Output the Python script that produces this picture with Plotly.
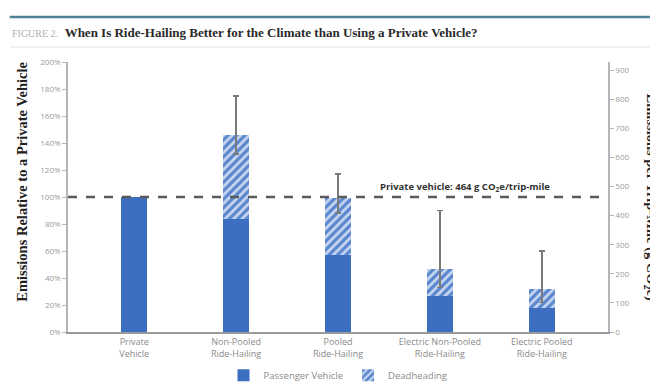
import plotly.graph_objects as go

# Trip modes along the x axis
categories = [
    "Private<br>Vehicle",
    "Non-Pooled<br>Ride-Hailing",
    "Pooled<br>Ride-Hailing",
    "Electric Non-Pooled<br>Ride-Hailing",
    "Electric Pooled<br>Ride-Hailing",
]

# Emissions relative to a private vehicle (%)
passenger_vehicle = [100, 84, 57, 27, 18]
deadheading = [None, 62, 42, 20, 14]

# Uncertainty ranges on the total (%)
range_low = [None, 132, 88, 33, 22]
range_high = [None, 175, 117, 90, 60]

# Private vehicle reference emissions (g CO2e / trip-mile)
private_g_per_mile = 464

left_ticks = list(range(0, 201, 20))
left_labels = [f"{v}%" for v in left_ticks]
right_ticks = list(range(0, 901, 100))

totals = [p + (d or 0) for p, d in zip(passenger_vehicle, deadheading)]
err_plus = [None if h is None else h - t for h, t in zip(range_high, totals)]
err_minus = [None if l is None else t - l for l, t in zip(range_low, totals)]

BLUE = "#3d6fc0"
LIGHT = "#c9d9f1"
AXIS = "#9a9a9a"
SANS = "Open Sans, sans-serif"
TICK_FONT = dict(family=SANS, size=8, color="#9a9a9a")
SERIF = "Liberation Serif, serif"

fig = go.Figure()

fig.add_trace(go.Bar(
    x=categories, y=passenger_vehicle, name="Passenger Vehicle",
    marker=dict(color=BLUE, line=dict(width=0)), width=0.26,
    hoverinfo="skip",
))
fig.add_trace(go.Bar(
    x=categories, y=deadheading, name="Deadheading",
    marker=dict(
        color=BLUE, line=dict(width=0),
        pattern=dict(shape="/", bgcolor="#5b87cf", fgcolor=LIGHT,
                     size=6, solidity=0.45, fillmode="replace"),
    ),
    width=0.26,
    error_y=dict(type="data", symmetric=False, array=err_plus,
                 arrayminus=err_minus, color="#7a7a7a", thickness=1.6, width=3),
    hoverinfo="skip",
))

# Secondary axis carrier (absolute emissions)
fig.add_trace(go.Scatter(
    x=[categories[0]], y=[private_g_per_mile], yaxis="y2", mode="markers",
    marker=dict(opacity=0), showlegend=False, hoverinfo="skip",
))

# Reference line: private vehicle emissions
fig.add_shape(type="line", xref="paper", x0=0, x1=1, yref="y2",
              y0=private_g_per_mile, y1=private_g_per_mile,
              line=dict(color="#5a5a5a", width=2.5, dash="dash"), layer="above")

fig.add_annotation(
    x=3.25, xref="x", y=private_g_per_mile, yref="y2", yshift=10,
    text="<b>Private vehicle: 464 g CO<sub>2</sub>e/trip-mile</b>",
    showarrow=False, font=dict(family=SANS, size=9.5, color="#333333"),
)

# Header rule, title and divider
fig.add_shape(type="line", xref="paper", yref="paper", x0=-0.108, x1=1.08,
              y0=1.1667, y1=1.1667, line=dict(color="#4f8296", width=2.5))
fig.add_shape(type="line", xref="paper", yref="paper", x0=-0.108, x1=1.08,
              y0=1.0556, y1=1.0556, line=dict(color="#e2e2e2", width=1))
fig.add_annotation(
    xref="paper", yref="paper", x=-0.108, y=1.108, xanchor="left", yanchor="middle",
    text=("<span style='font-size:10px;color:#b0b0b0'>FIGURE 2.</span>&nbsp;&nbsp;"
          "<b>When Is Ride-Hailing Better for the Climate than Using a Private Vehicle?</b>"),
    showarrow=False, font=dict(family=SERIF, size=13, color="#2a2a2a"),
)

# Axis titles
fig.add_annotation(
    xref="paper", yref="paper", x=-0.104, y=0.556, textangle=-90,
    text="<b>Emissions Relative to a Private Vehicle</b>", showarrow=False,
    font=dict(family=SERIF, size=14.5, color="#222222"),
)
fig.add_annotation(
    xref="paper", yref="paper", x=1.06, y=0.5, xanchor="left", textangle=90,
    text="<b>Emissions per Trip-Mile (g CO<sub>2</sub>e)</b>", showarrow=False,
    font=dict(family=SERIF, size=14.5, color="#222222"),
)

fig.update_layout(
    width=650, height=383,
    margin=dict(l=68, r=42, t=62, b=51, autoexpand=False),
    paper_bgcolor="white", plot_bgcolor="white",
    barmode="stack",
    showlegend=True,
    legend=dict(orientation="h", x=0.5, xanchor="center",
                yref="container", y=0.02, yanchor="middle",
                font=dict(family=SANS, size=9.5, color="#8a8a8a"),
                itemwidth=30, traceorder="normal"),
    xaxis=dict(
        range=[-0.65, 4.65], showgrid=False, ticks="",
        showline=True, linecolor=AXIS, linewidth=2,
        tickfont=dict(family=SANS, size=9, color="#8a8a8a"),
        fixedrange=True,
    ),
    yaxis=dict(
        range=[0, 200], tickmode="array", tickvals=left_ticks, ticktext=left_labels,
        showgrid=False, zeroline=False, showline=True, linecolor="#b5b5b5", linewidth=1.5,
        ticks="outside", ticklen=4, tickcolor="#b5b5b5", tickfont=TICK_FONT,
    ),
    yaxis2=dict(
        overlaying="y", side="right", range=[0, 2 * private_g_per_mile],
        tickmode="array", tickvals=right_ticks, showgrid=False, zeroline=False,
        showline=True, linecolor="#b5b5b5", linewidth=1.5,
        ticks="outside", ticklen=4, tickcolor="#b5b5b5", tickfont=TICK_FONT,
    ),
)

fig.write_html("out.html")
